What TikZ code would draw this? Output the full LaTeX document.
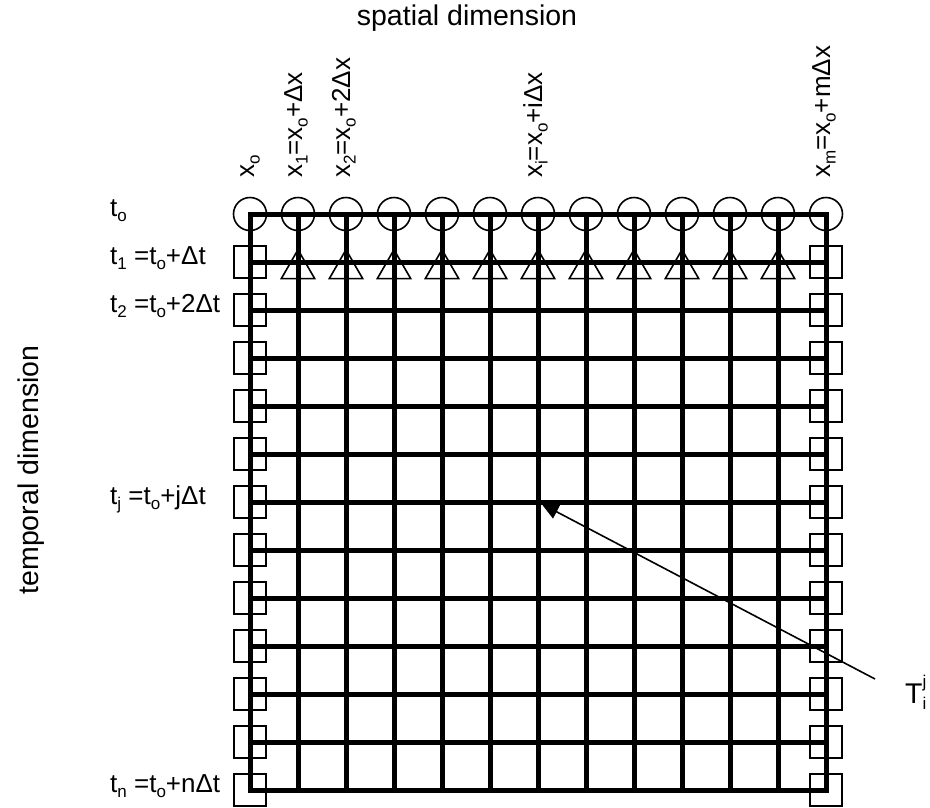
\documentclass[tikz,border=0pt]{standalone}
\usepackage{fontspec}
\setmainfont{Liberation Sans}
\usetikzlibrary{shapes.geometric,arrows.meta}
\newcommand\lsb[1]{\raisebox{-0.22em}{\fontsize{17}{17}\selectfont #1}}
\newcommand\lsp[1]{\raisebox{0.55em}{\fontsize{17}{17}\selectfont #1}}
\begin{document}
\begin{tikzpicture}[x=1pt,y=-1pt,
  gridline/.style={line width=5pt, line cap=rect},
  circ/.style={draw, circle, line width=1.6pt, minimum size=33pt, inner sep=0pt},
  tri/.style={draw, regular polygon, regular polygon sides=3, line width=1.6pt, minimum size=38.6pt, inner sep=0pt},
  sq/.style={draw, rectangle, line width=1.6pt, minimum size=32pt, inner sep=0pt},
  lab/.style={inner sep=0pt, font=\fontsize{26}{30}\selectfont},
  title/.style={inner sep=0pt, font=\fontsize{28.5}{32}\selectfont},
  pointer/.style={line width=1.6pt, -{Triangle[length=17pt,width=15pt]}, shorten >=4pt},
]
\useasboundingbox (0,0) rectangle (930,807);
% axis titles
\node[title] (sp) at (467,18) {spatial dimension};
\node[title, rotate=90] (tp) at (31,470) {temporal dimension};
% markers
\foreach \i in {0,...,12}{\node[circ] (c\i) at ({250+48*\i},214) {};}
\foreach \i in {1,...,11}{\node[tri] (tr\i) at ({250+48*\i},269) {};}
\foreach \j in {1,...,12}{
  \node[sq] (bl\j) at (250,{214+48*\j}) {};
  \node[sq] (br\j) at (826,{214+48*\j}) {};
}
% grid
\draw[gridline] (c0.center) -- (c12.center);
\foreach \j in {1,...,12}{\draw[gridline] (bl\j.center) -- (br\j.center);}
\foreach \i in {0,...,12}{\draw[gridline] (c\i.center) -- (c\i.center |- bl12.center);}
% column labels
\node[lab, rotate=90, anchor=base west] (lx0) at (254,178) {x\lsb{o}};
\node[lab, rotate=90, anchor=base west] (lx1) at (302,178) {x\lsb{1}=x\lsb{o}+Δx};
\node[lab, rotate=90, anchor=base west] (lx2) at (350,178) {x\lsb{2}=x\lsb{o}+2Δx};
\node[lab, rotate=90, anchor=base west] (lxi) at (542,178) {x\lsb{i}=x\lsb{o}+iΔx};
\node[lab, rotate=90, anchor=base west] (lxm) at (830,178) {x\lsb{m}=x\lsb{o}+mΔx};
% row labels
\node[lab, anchor=base west] (lt0) at (110,216) {t\lsb{o}};
\node[lab, anchor=base west] (lt1) at (110,264) {t\lsb{1} =t\lsb{o}+Δt};
\node[lab, anchor=base west] (lt2) at (110,312) {t\lsb{2} =t\lsb{o}+2Δt};
\node[lab, anchor=base west] (ltj) at (110,504) {t\lsb{j} =t\lsb{o}+jΔt};
\node[lab, anchor=base west] (ltn) at (110,792) {t\lsb{n} =t\lsb{o}+nΔt};
% pointer to T_i^j
\coordinate (tij) at (c6.center |- bl6.center);
\coordinate (tail) at (875,679);
\node[title, anchor=base west] (T) at (905,703) {T\rlap{\lsp{j}}\lsb{i}};
\draw[pointer] (tail) -- (tij);
\end{tikzpicture}
\end{document}
